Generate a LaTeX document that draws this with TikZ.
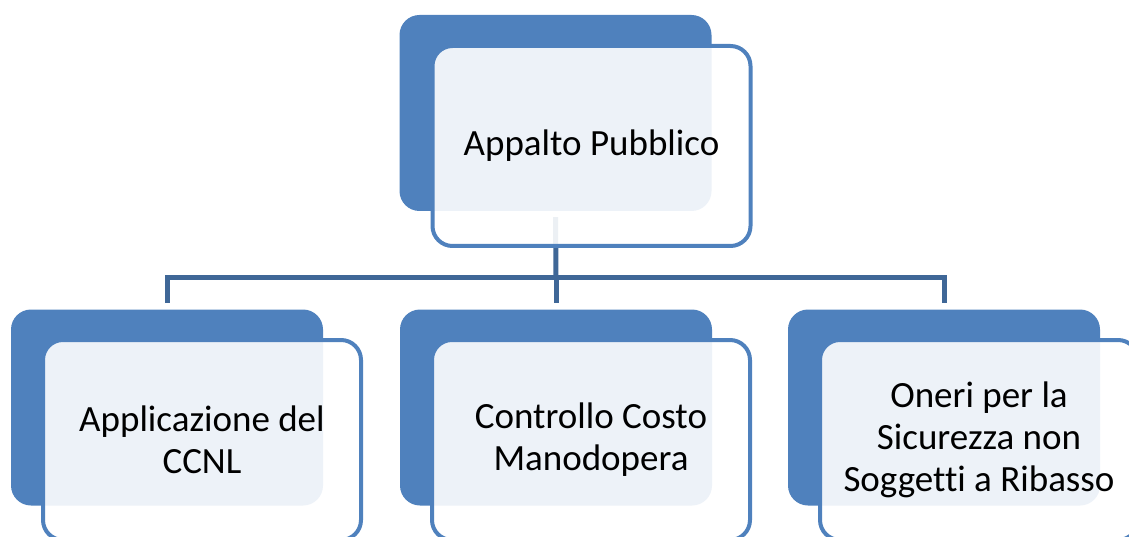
\documentclass[tikz,border=0pt]{standalone}
\usepackage{fontspec}
\setmainfont[Ligatures=NoCommon]{Carlito}
\definecolor{accent}{HTML}{4F81BD}
\definecolor{linkblue}{HTML}{3F6797}
\tikzset{
  backbox/.style={fill=accent, draw=none, rounded corners=20pt,
    minimum width=312pt, minimum height=196pt, inner sep=0pt},
  frontbox/.style={fill=white, fill opacity=0.9, text opacity=1, draw=accent,
    line width=4pt, rounded corners=20pt, minimum width=318pt,
    minimum height=200pt, inner sep=0pt, align=center, text=black,
    font=\fontsize{37}{42}\selectfont},
  link/.style={draw=linkblue, line width=5pt}
}
\begin{document}
\begin{tikzpicture}[x=1pt,y=-1pt]
\useasboundingbox (0,0) rectangle (1129,537);
\clip (0,0) rectangle (1129,537);
% back plates
\node[backbox] (topback) at (555.5,113) {};
\node[backbox] (leftback) at (167,407.5) {};
\node[backbox] (midback) at (556,407.5) {};
\node[backbox] (rightback) at (944,407.5) {};
% connectors
\coordinate (bus) at (556,277);
\draw[link] ([yshift=-6pt]topback.south) -- (bus);
\draw[link] (bus) -| ([yshift=6pt]leftback.north);
\draw[link] (bus) -- ([yshift=6pt]midback.north);
\draw[link] (bus) -| ([yshift=6pt]rightback.north);
% front cards
\node[frontbox] (top) at (591.5,146) {Appalto Pubblico};
\node[frontbox] (left) at (202,440) {Applicazione del\\CCNL};
\node[frontbox] (mid) at (591,440) {Controllo Costo\\Manodopera};
\node[frontbox] (right) at (979,440) {Oneri per la\\Sicurezza non\\Soggetti a Ribasso};
\end{tikzpicture}
\end{document}
